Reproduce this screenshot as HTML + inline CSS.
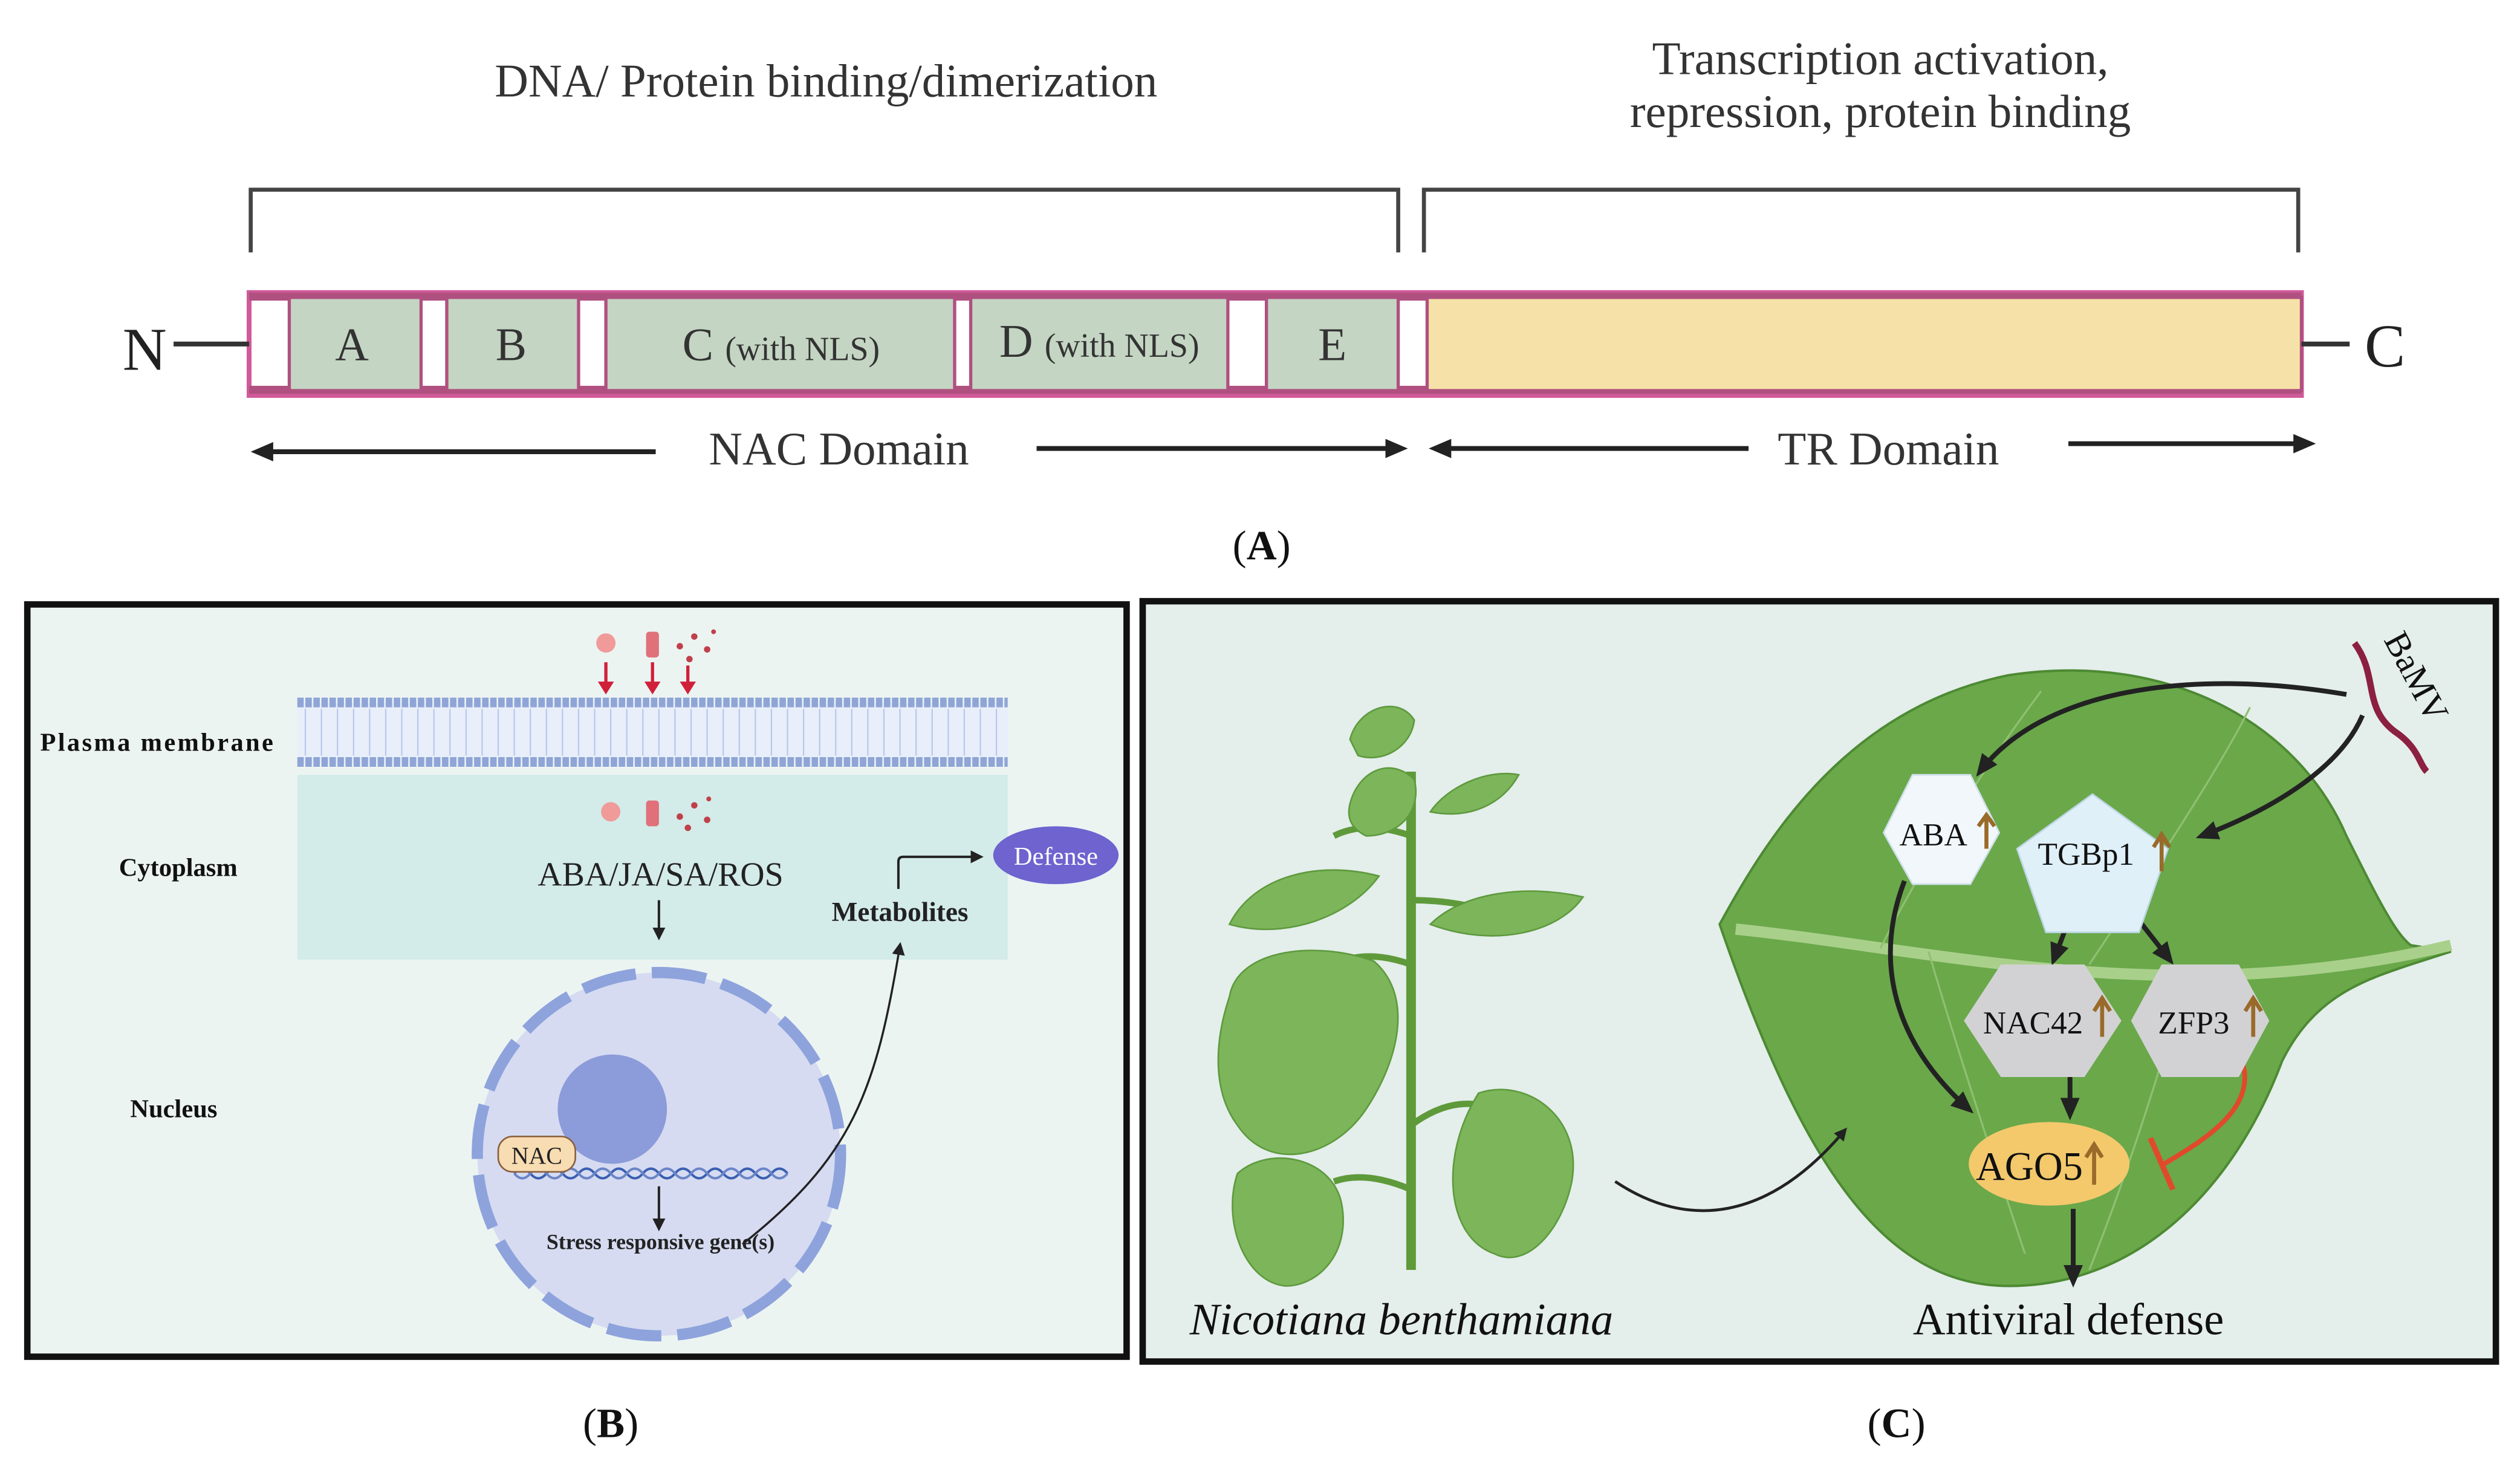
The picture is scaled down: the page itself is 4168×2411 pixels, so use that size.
<!DOCTYPE html>
<html><head><meta charset="utf-8"><style>
html,body{margin:0;padding:0;background:#fff}
svg{display:block}
text{font-family:"Liberation Serif",serif}
</style></head><body>
<svg width="4168" height="2411" viewBox="0 0 1568 907" xmlns="http://www.w3.org/2000/svg">
<defs>
<marker id="ah" markerWidth="8" markerHeight="8" refX="6" refY="4" orient="auto" markerUnits="userSpaceOnUse"><path d="M0,0 L8,4 L0,8 z" fill="#222"/></marker>
<marker id="ahb" markerWidth="14" markerHeight="12" refX="10" refY="6" orient="auto" markerUnits="userSpaceOnUse"><path d="M0,0 L14,6 L0,12 z" fill="#222"/></marker>
<marker id="ahr" markerWidth="8" markerHeight="10" refX="6" refY="5" orient="auto" markerUnits="userSpaceOnUse"><path d="M0,0 L8,5 L0,10 z" fill="#d0203a"/></marker>
</defs>
<rect width="1568" height="907" fill="#fff"/>

<!-- Panel A -->
<text x="514" y="60" font-size="29" text-anchor="middle" fill="#333">DNA/ Protein binding/dimerization</text>
<text x="1170" y="46" font-size="29" text-anchor="middle" fill="#333">Transcription activation,</text>
<text x="1170" y="79" font-size="29" text-anchor="middle" fill="#333">repression, protein binding</text>
<path d="M156,157 V118 H870 V157 M886,157 V118 H1430 V157" fill="none" stroke="#444" stroke-width="2.5"/>
<rect x="155" y="182" width="1277" height="64" fill="#fff" stroke="#d05a9a" stroke-width="3"/>
<rect x="155" y="182" width="1277" height="5" fill="#b05080"/>
<rect x="155" y="240" width="1277" height="5" fill="#b05080"/>
<g fill="#c4d5c3" stroke="#b05080" stroke-width="2">
<rect x="180" y="185" width="82" height="58"/>
<rect x="278" y="185" width="82" height="58"/>
<rect x="377" y="185" width="217" height="58"/>
<rect x="604" y="185" width="160" height="58"/>
<rect x="788" y="185" width="82" height="58"/>
</g>
<rect x="888" y="185" width="544" height="58" fill="#f6e1a8" stroke="#b05080" stroke-width="2"/>
<g font-size="29" fill="#333" text-anchor="middle">
<text x="219" y="224">A</text><text x="318" y="224">B</text>
<text x="486" y="224">C <tspan font-size="21">(with NLS)</tspan></text>
<text x="684" y="222">D <tspan font-size="21">(with NLS)</tspan></text>
<text x="829" y="224">E</text>
</g>
<text x="90" y="230" font-size="38" text-anchor="middle" fill="#222">N</text>
<line x1="108" y1="214" x2="155" y2="214" stroke="#333" stroke-width="3"/>
<line x1="1432" y1="214" x2="1462" y2="214" stroke="#333" stroke-width="3"/>
<text x="1484" y="228" font-size="38" text-anchor="middle" fill="#222">C</text>
<g stroke="#222" stroke-width="3" marker-end="url(#ahb)">
<line x1="408" y1="281" x2="160" y2="281"/>
<line x1="645" y1="279" x2="872" y2="279"/>
<line x1="1088" y1="279" x2="893" y2="279"/>
<line x1="1287" y1="276" x2="1437" y2="276"/>
</g>
<text x="522" y="289" font-size="29" text-anchor="middle" fill="#333">NAC Domain</text>
<text x="1175" y="289" font-size="29" text-anchor="middle" fill="#333">TR Domain</text>
<text x="785" y="348" font-size="26" text-anchor="middle" fill="#111">(<tspan font-weight="bold">A</tspan>)</text>

<!-- Panel B -->
<rect x="17" y="376" width="684" height="468" fill="#ecf4f2" stroke="#111" stroke-width="4"/>
<rect x="185" y="482" width="442" height="115" fill="#d3ebe9"/>
<rect x="185" y="437" width="442" height="38" fill="#e8eefa"/>
<line x1="185" y1="437" x2="627" y2="437" stroke="#8fa5d6" stroke-width="6" stroke-dasharray="4 1"/>
<line x1="185" y1="474" x2="627" y2="474" stroke="#8fa5d6" stroke-width="6" stroke-dasharray="4 1"/>
<g stroke="#b8c6ea" stroke-width="0.8">
<path d="M190,441 V470 M200,441 V470 M210,441 V470 M220,441 V470 M230,441 V470 M240,441 V470 M250,441 V470 M260,441 V470 M270,441 V470 M280,441 V470 M290,441 V470 M300,441 V470 M310,441 V470 M320,441 V470 M330,441 V470 M340,441 V470 M350,441 V470 M360,441 V470 M370,441 V470 M380,441 V470 M390,441 V470 M400,441 V470 M410,441 V470 M420,441 V470 M430,441 V470 M440,441 V470 M450,441 V470 M460,441 V470 M470,441 V470 M480,441 V470 M490,441 V470 M500,441 V470 M510,441 V470 M520,441 V470 M530,441 V470 M540,441 V470 M550,441 V470 M560,441 V470 M570,441 V470 M580,441 V470 M590,441 V470 M600,441 V470 M610,441 V470 M620,441 V470"/>
</g>
<circle cx="377" cy="400" r="6" fill="#f09a9a"/>
<rect x="402" y="393" width="8" height="16" rx="2" fill="#e0707a"/>
<g fill="#c0404a"><circle cx="423" cy="402" r="2"/><circle cx="432" cy="396" r="2"/><circle cx="440" cy="404" r="2"/><circle cx="429" cy="410" r="2"/><circle cx="444" cy="393" r="1.5"/></g>
<g stroke="#d0203a" stroke-width="2" marker-end="url(#ahr)">
<line x1="377" y1="412" x2="377" y2="430"/><line x1="406" y1="412" x2="406" y2="430"/><line x1="428" y1="414" x2="428" y2="430"/>
</g>
<circle cx="380" cy="505" r="6" fill="#f09a9a"/>
<rect x="402" y="498" width="8" height="16" rx="2" fill="#e0707a"/>
<g fill="#c0404a"><circle cx="423" cy="508" r="2"/><circle cx="432" cy="501" r="2"/><circle cx="440" cy="510" r="2"/><circle cx="428" cy="515" r="2"/><circle cx="441" cy="497" r="1.5"/></g>
<g font-size="16" fill="#111" font-weight="bold">
<text x="25" y="467" textLength="145">Plasma membrane</text>
<text x="74" y="545">Cytoplasm</text>
<text x="81" y="695">Nucleus</text>
</g>
<text x="411" y="551" font-size="21" text-anchor="middle" fill="#222">ABA/JA/SA/ROS</text>
<line x1="410" y1="560" x2="410" y2="583" stroke="#222" stroke-width="1.5" marker-end="url(#ah)"/>
<text x="560" y="573" font-size="17" text-anchor="middle" fill="#222" font-weight="bold">Metabolites</text>
<circle cx="410" cy="718" r="113" fill="#d6dbf1" stroke="#8ea3dc" stroke-width="7" stroke-dasharray="34 10"/>
<circle cx="381" cy="690" r="34" fill="#8c9bd9"/>
<path d="M320,730 q5,-6 10,0 t10,0 t10,0 t10,0 t10,0 t10,0 t10,0 t10,0 t10,0 t10,0 t10,0 t10,0 t10,0 t10,0 t10,0 t10,0 t10,0" fill="none" stroke="#3a5fb0" stroke-width="1.5"/>
<path d="M320,730 q5,6 10,0 t10,0 t10,0 t10,0 t10,0 t10,0 t10,0 t10,0 t10,0 t10,0 t10,0 t10,0 t10,0 t10,0 t10,0 t10,0 t10,0" fill="none" stroke="#6a85c8" stroke-width="1.5"/>
<rect x="310" y="707" width="48" height="22" rx="9" fill="#f8dcb2" stroke="#8a6040" stroke-width="1"/>
<text x="334" y="724" font-size="15" text-anchor="middle" fill="#222">NAC</text>
<line x1="410" y1="738" x2="410" y2="764" stroke="#222" stroke-width="1.5" marker-end="url(#ah)"/>
<text x="411" y="777" font-size="13.5" text-anchor="middle" fill="#222" font-weight="bold">Stress responsive gene(s)</text>
<path d="M462,774 C530,720 545,680 560,588" fill="none" stroke="#222" stroke-width="1.3" marker-end="url(#ah)"/>
<path d="M559,553 V536 Q559,533 562,533 H610" fill="none" stroke="#222" stroke-width="1.5" marker-end="url(#ah)"/>
<ellipse cx="657" cy="532" rx="39" ry="18" fill="#6e63cf"/>
<text x="657" y="538" font-size="16" text-anchor="middle" fill="#fff">Defense</text>
<text x="380" y="894" font-size="26" text-anchor="middle" fill="#111">(<tspan font-weight="bold">B</tspan>)</text>

<!-- Panel C -->
<rect x="711" y="374" width="842" height="473" fill="#e4eeeb" stroke="#111" stroke-width="4"/>
<!-- plant -->
<g>
<line x1="878" y1="790" x2="878" y2="480" stroke="#5f9a3a" stroke-width="6"/>
<path d="M878,700 Q905,680 930,690" fill="none" stroke="#5f9a3a" stroke-width="4"/>
<path d="M878,740 Q850,728 830,735" fill="none" stroke="#5f9a3a" stroke-width="4"/>
<path d="M878,600 Q850,590 830,600" fill="none" stroke="#5f9a3a" stroke-width="4"/>
<path d="M878,560 Q910,560 935,570" fill="none" stroke="#5f9a3a" stroke-width="4"/>
<path d="M878,520 Q850,510 830,520" fill="none" stroke="#5f9a3a" stroke-width="4"/>
<g fill="#7db65a" stroke="#5e9a3e" stroke-width="1">
<path d="M765,620 C770,590 820,585 855,598 C880,620 870,660 850,690 C830,720 790,730 770,700 C755,680 755,650 765,620z"/>
<path d="M920,680 C950,670 985,695 978,735 C972,765 950,790 930,780 C900,770 895,720 920,680z"/>
<path d="M770,730 C790,712 830,720 835,750 C840,780 820,800 800,800 C775,798 760,760 770,730z"/>
<path d="M765,575 C780,545 820,535 858,545 C840,570 800,585 765,575z"/>
<path d="M890,575 C910,555 950,550 985,558 C970,580 930,590 890,575z"/>
<path d="M840,500 C845,480 865,470 880,485 C885,505 870,520 850,520 C840,515 838,508 840,500z"/>
<path d="M890,505 C900,490 925,478 945,482 C935,500 915,510 890,505z"/>
<path d="M840,460 C845,440 870,432 880,448 C878,465 860,475 845,470z"/>
</g>
</g>
<text x="872" y="830" font-size="28" font-style="italic" text-anchor="middle" fill="#111">Nicotiana benthamiana</text>
<!-- leaf -->
<path d="M1070,575 C1100,520 1150,440 1250,420 C1350,405 1430,450 1460,520 C1480,560 1490,580 1500,588 L1525,592 L1500,600 C1470,610 1440,620 1420,660 C1390,740 1330,800 1250,800 C1170,800 1120,720 1070,575z" fill="#6aa84a" stroke="#4d8a33" stroke-width="1.5"/>
<path d="M1080,578 C1200,590 1350,630 1525,588" fill="none" stroke="#a9d08a" stroke-width="7"/>
<g fill="none" stroke="#8fc072" stroke-width="1.2">
<path d="M1170,590 C1200,530 1240,470 1270,430"/><path d="M1300,600 C1340,540 1380,480 1400,440"/>
<path d="M1200,592 C1220,660 1240,720 1260,780"/><path d="M1360,610 C1340,680 1320,740 1300,790"/>
</g>
<path d="M1005,735 C1050,765 1100,760 1148,703" fill="none" stroke="#222" stroke-width="1.8" marker-end="url(#ah)"/>
<!-- BaMV -->
<path d="M1465,400 C1480,420 1470,440 1490,455 C1505,465 1505,475 1510,480" fill="none" stroke="#8b2040" stroke-width="4"/>
<text transform="translate(1483,398) rotate(62)" font-size="22" fill="#111">BaMV</text>
<g fill="none" stroke="#222" stroke-width="3" marker-end="url(#ahb)">
<path d="M1460,432 C1360,415 1270,430 1232,480"/>
<path d="M1470,445 C1455,480 1410,505 1370,520"/>
<path d="M1185,548 C1165,600 1180,650 1225,690"/>
<line x1="1290" y1="565" x2="1278" y2="597"/>
<line x1="1325" y1="565" x2="1350" y2="597"/>
<line x1="1288" y1="665" x2="1288" y2="693"/>
<line x1="1290" y1="752" x2="1290" y2="797"/>
</g>
<path d="M1395,660 C1405,690 1370,710 1345,725" fill="none" stroke="#e04a2a" stroke-width="3"/>
<line x1="1338" y1="708" x2="1352" y2="740" stroke="#e04a2a" stroke-width="3.5"/>
<polygon points="1190,482 1226,482 1244,518 1226,550 1190,550 1172,518" fill="#f1f7fb" stroke="#cfe0ea"/>
<text x="1203" y="526" font-size="20" text-anchor="middle" fill="#111">ABA</text>
<polygon points="1302,494 1349,528 1331,580 1273,580 1255,528" fill="#dff0f8" stroke="#bcd5e2"/>
<text x="1298" y="538" font-size="20" text-anchor="middle" fill="#111">TGBp1</text>
<polygon points="1245,600 1297,600 1320,635 1297,670 1245,670 1222,635" fill="#d2d2d4"/>
<text x="1265" y="643" font-size="20" text-anchor="middle" fill="#111">NAC42</text>
<polygon points="1345,600 1393,600 1412,635 1393,670 1345,670 1326,635" fill="#d2d2d4"/>
<text x="1365" y="643" font-size="20" text-anchor="middle" fill="#111">ZFP3</text>
<ellipse cx="1275" cy="724" rx="50" ry="26" fill="#f3c96c"/>
<text x="1296" y="734" font-size="25" text-anchor="end" fill="#111">AGO5</text>
<g stroke="#9a6a2a" stroke-width="2.5" fill="none">
<path d="M1236,528 V508 M1231,514 L1236,507 L1241,514"/>
<path d="M1345,542 V520 M1340,527 L1345,519 L1350,527"/>
<path d="M1308,645 V622 M1303,629 L1308,621 L1313,629"/>
<path d="M1402,645 V622 M1397,629 L1402,621 L1407,629"/>
<path d="M1303,737 V713 M1298,720 L1303,712 L1308,720"/>
</g>
<text x="1287" y="830" font-size="28" text-anchor="middle" fill="#111">Antiviral defense</text>
<text x="1180" y="894" font-size="26" text-anchor="middle" fill="#111">(<tspan font-weight="bold">C</tspan>)</text>
</svg>
</body></html>
